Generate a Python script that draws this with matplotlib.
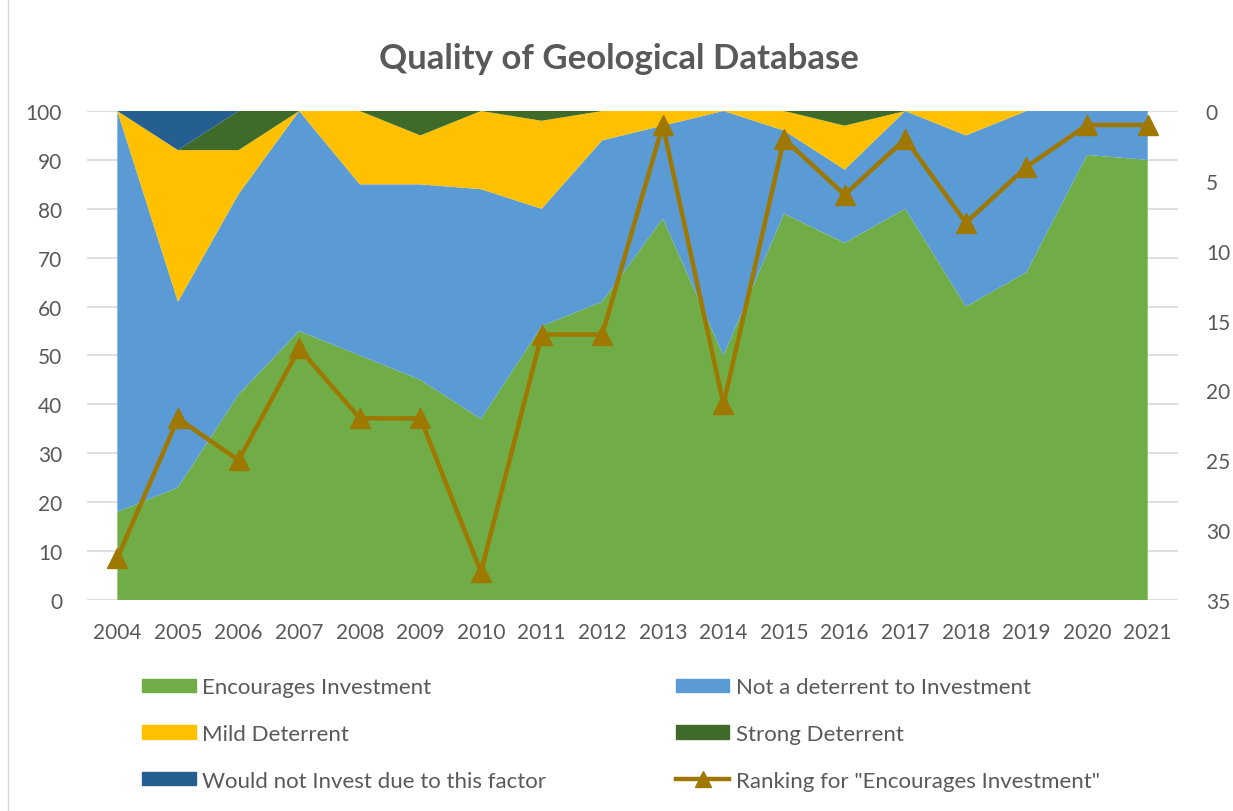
import matplotlib.pyplot as plt
from matplotlib.patches import Patch
from matplotlib.lines import Line2D

plt.rcParams['font.family'] = ['Lato', 'DejaVu Sans']

# Survey data (percent of respondents)
years = list(range(2004, 2022))
encourages = [18, 23, 42, 55, 50, 45, 37, 56, 61, 78, 50, 79, 73, 80, 60, 67, 91, 90]
not_deterrent = [82, 38, 41, 45, 35, 40, 47, 24, 33, 19, 50, 17, 15, 20, 35, 33, 9, 10]
mild = [0, 31, 9, 0, 15, 10, 16, 18, 6, 3, 0, 4, 9, 0, 5, 0, 0, 0]
strong = [0, 0, 8, 0, 0, 5, 0, 2, 0, 0, 0, 0, 3, 0, 0, 0, 0, 0]
would_not = [0, 8, 0, 0, 0, 0, 0, 0, 0, 0, 0, 0, 0, 0, 0, 0, 0, 0]
# Ranking for "Encourages Investment" (right axis, inverted)
ranking = [32, 22, 25, 17, 22, 22, 33, 16, 16, 1, 21, 2, 6, 2, 8, 4, 1, 1]

labels = ['Encourages Investment', 'Not a deterrent to Investment',
          'Mild Deterrent', 'Strong Deterrent', 'Would not Invest due to this factor']
colors = ['#70AD47', '#5B9BD5', '#FFC000', '#3E6B2A', '#255E91']
line_color = '#9E7800'
text_color = '#595959'

fig = plt.figure(figsize=(12.33, 8.12), dpi=100)
ax = fig.add_axes([0.0706, 0.2599, 0.8848, 0.6022])

ax.stackplot(years, encourages, not_deterrent, mild, strong, would_not,
             colors=colors, linewidth=0)
ax.set_xlim(2003.5, 2021.5)
ax.set_ylim(0, 100)
ax.set_yticks(range(0, 101, 10))
ax.set_xticks(years)
ax.grid(axis='y', color='#D9D9D9', linewidth=1.2)
ax.set_axisbelow(True)
for s in ax.spines.values():
    s.set_visible(False)
ax.tick_params(length=0, labelsize=15, colors=text_color)
ax.tick_params(axis='y', pad=18)
ax.tick_params(axis='x', pad=16)

ax2 = ax.twinx()
ax2.plot(years, ranking, color=line_color, linewidth=3.2, marker='^',
         markersize=14, clip_on=False)
ax2.set_ylim(35, 0)
ax2.set_yticks(range(0, 36, 5))
for s in ax2.spines.values():
    s.set_visible(False)
ax2.tick_params(axis='y', length=0, labelsize=15, colors=text_color, pad=20)

fig.suptitle('Quality of Geological Database', x=0.502, y=0.947,
             fontsize=25, fontweight='bold', color=text_color)

# faint chart frame on the left
fig.add_artist(Line2D([8 / 1233] * 2, [0, 1], color='#D9D9D9', linewidth=1))

handles = [Patch(color=c) for c in colors]
line_handle = Line2D([], [], color=line_color, linewidth=3.2, marker='^', markersize=12)
leg_kw = dict(frameon=False, fontsize=16, labelcolor=text_color, handlelength=2.4,
              handleheight=0.55, handletextpad=0.3, labelspacing=1.2, borderpad=0,
              loc='upper left')
leg1 = fig.legend([handles[0], handles[2], handles[4]],
                  [labels[0], labels[2], labels[4]],
                  bbox_to_anchor=(0.1065, 0.1785), **leg_kw)
leg2 = fig.legend([handles[1], handles[3], line_handle],
                  [labels[1], labels[3], 'Ranking for "Encourages Investment"'],
                  bbox_to_anchor=(0.5393, 0.1785), **leg_kw)

fig.savefig('out.png', dpi=100)
